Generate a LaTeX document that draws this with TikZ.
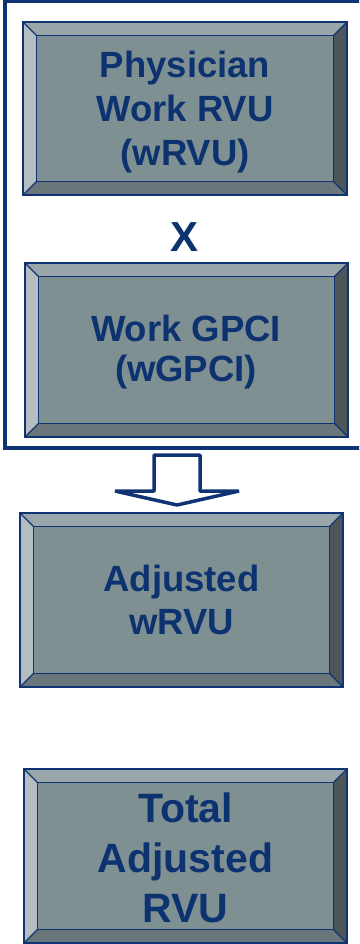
\documentclass[tikz,border=0pt]{standalone}
\usepackage{fontspec}
\setmainfont{Liberation Sans}
\definecolor{navy}{HTML}{0F3373}
\definecolor{txtnavy}{HTML}{0D3270}
\definecolor{bvface}{HTML}{7F9093}
\definecolor{bvtopc}{HTML}{9AA6AA}
\definecolor{bvleftc}{HTML}{B4BDC0}
\definecolor{bvrightc}{HTML}{4D565B}
\definecolor{bvbotc}{HTML}{6A767A}
\newcommand\bvbox[5]{%
  \fill[bvface] (#1,#2) rectangle (#3,#4);
  \fill[bvtopc] (#1,#2) -- (#3,#2) -- (#3-#5,#2+#5) -- (#1+#5,#2+#5) -- cycle;
  \fill[bvleftc] (#1,#2) -- (#1+#5,#2+#5) -- (#1+#5,#4-#5) -- (#1,#4) -- cycle;
  \fill[bvrightc] (#3,#2) -- (#3,#4) -- (#3-#5,#4-#5) -- (#3-#5,#2+#5) -- cycle;
  \fill[bvbotc] (#1,#4) -- (#3,#4) -- (#3-#5,#4-#5) -- (#1+#5,#4-#5) -- cycle;
  \draw[bvline] (#1,#2) rectangle (#3,#4);
  \draw[bvline] (#1+#5,#2+#5) rectangle (#3-#5,#4-#5);
  \draw[bvline] (#1,#2) -- (#1+#5,#2+#5);
  \draw[bvline] (#3,#2) -- (#3-#5,#2+#5);
  \draw[bvline] (#1,#4) -- (#1+#5,#4-#5);
  \draw[bvline] (#3,#4) -- (#3-#5,#4-#5);
}
\begin{document}
\begin{tikzpicture}[x=1pt,y=-1pt,
  bvline/.style={draw=navy, line width=1.3pt},
  lbl/.style={text=txtnavy, align=center, inner sep=0pt, font=\bfseries\fontsize{36.5}{43.8}\selectfont},
  biglbl/.style={lbl, font=\bfseries\fontsize{41}{50}\selectfont},
  frame/.style={draw=navy, line width=3.8pt},
  blockarrow/.style={draw=navy, fill=white, line width=3.5pt, line join=bevel}]
\useasboundingbox (0,0) rectangle (359,944);
\clip (0,0) rectangle (359,944);
% outer frame
\draw[frame] (4.7,1.6) rectangle (364,448);
% boxes
\bvbox{23}{22}{347}{195}{13.5}
\bvbox{25}{263}{348}{437}{13.5}
\bvbox{20}{513}{343}{687}{13.5}
\bvbox{24}{769}{347}{943}{13.5}
% labels
\node[lbl] (t1) at (185,112) {Physician\\Work RVU\\(wRVU)};
\node[lbl, font=\bfseries\fontsize{36.5}{40.5}\selectfont] (t2) at (186,352) {Work GPCI\\(wGPCI)};
\node[lbl, font=\bfseries\fontsize{42}{42}\selectfont] (x) at (185,237.5) {X};
\node[lbl] (t3) at (181.5,600) {Adjusted\\wRVU};
\node[biglbl] (t4) at (185.5,857.5) {Total\\Adjusted\\RVU};
% block arrow
\draw[blockarrow] (154,455) -- (200,455) -- (200,491) -- (239,491) -- (177,505) -- (115,491) -- (154,491) -- cycle;
\end{tikzpicture}
\end{document}
